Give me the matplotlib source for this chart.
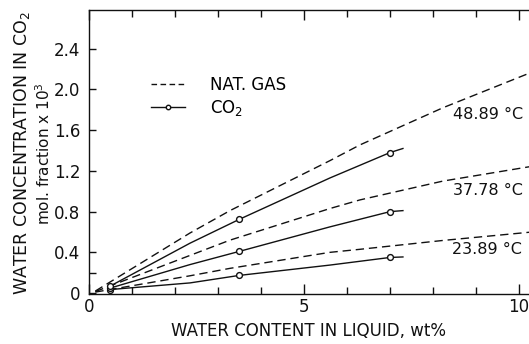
import matplotlib
matplotlib.use("Agg")
import matplotlib.pyplot as plt
from matplotlib.lines import Line2D

# curvas gas natural (discontinuas)
gas_x = [0.15, 2.35, 3.28, 5.6, 6.3, 8.23, 10.3]
gas_lo = [0.01, 0.17, 0.243, 0.40, 0.43, 0.517, 0.60]
gas_mid = [0.015, 0.37, 0.52, 0.83, 0.915, 1.10, 1.245]
gas_hi = [0.02, 0.59, 0.81, 1.30, 1.455, 1.82, 2.17]

# curvas CO2 (continuas con círculos en los puntos medidos)
co2_x = [0.5, 2.35, 3.5, 5.6, 7.0, 7.3]
co2_lo = [0.035, 0.10, 0.174, 0.275, 0.35, 0.355]
co2_mid = [0.05, 0.28, 0.41, 0.65, 0.80, 0.81]
co2_hi = [0.07, 0.49, 0.725, 1.13, 1.38, 1.42]
co2_marks = [0, 2, 4]

temp_labels = ["23.89 °C", "37.78 °C", "48.89 °C"]
temp_label_x = [8.45, 8.47, 8.47]
temp_label_y = [0.43, 1.01, 1.75]

y_ticks = [0, 0.4, 0.8, 1.2, 1.6, 2.0, 2.4]
y_ticklabels = ["0", "0.4", "0.8", "1.2", "1.6", "2.0", "2.4"]
x_ticks = [0, 5, 10]

INK = "#111111"
FS = 12

fig = plt.figure(figsize=(5.29, 3.44), dpi=100)
ax = fig.add_axes((0.168, 0.145, 0.832, 0.826))
ax.set_xlim(0, 10.23)
ax.set_ylim(-0.01, 2.78)

for gy in (gas_lo, gas_mid, gas_hi):
    ax.plot(gas_x, gy, color=INK, lw=1.0, ls=(0, (6, 3.5)))
for cy in (co2_lo, co2_mid, co2_hi):
    ax.plot(co2_x, cy, color=INK, lw=1.0, marker="o", ms=4.2, mfc="white",
            mec=INK, mew=1.0, markevery=co2_marks)

for lab, lx, ly in zip(temp_labels, temp_label_x, temp_label_y):
    ax.text(lx, ly, lab, fontsize=11.5, ha="left", va="center", color=INK, clip_on=False)

handles = [
    Line2D([], [], color=INK, lw=1.0, ls=(0, (4, 2.5))),
    Line2D([], [], color=INK, lw=1.0, marker="o", ms=3.2, mfc="white", mec=INK),
]
ax.legend(handles, ["NAT. GAS", "CO$_2$"], loc="upper left", bbox_to_anchor=(0.108, 0.82),
          frameon=False, fontsize=FS, handlelength=2.0, handletextpad=1.5, labelspacing=0.25)

ax.spines["right"].set_visible(False)
for s in ("left", "top", "bottom"):
    ax.spines[s].set_linewidth(1.0)
    ax.spines[s].set_color(INK)

ax.set_yticks(y_ticks)
ax.set_yticklabels(y_ticklabels)
ax.set_yticks([0.2], minor=True)
ax.set_xticks(x_ticks)
ax.set_xticks(range(0, 11), minor=True)
ax.tick_params(which="both", direction="in", top=True, right=False, colors=INK,
               labelsize=FS, width=1.0)
ax.tick_params(which="major", length=7, pad=3)
ax.tick_params(which="minor", length=5)
ax.tick_params(axis="y", which="major", length=5, pad=6)

ax.set_xlabel("WATER CONTENT IN LIQUID, wt%", fontsize=FS, color=INK, labelpad=4)
fig.text(0.042, 0.555, "WATER CONCENTRATION IN CO$_2$", rotation=90, fontsize=12.5,
         ha="center", va="center", color=INK)
fig.text(0.082, 0.555, "mol. fraction x 10$^3$", rotation=90, fontsize=11,
         ha="center", va="center", color=INK)

fig.savefig("out.png", dpi=100)
